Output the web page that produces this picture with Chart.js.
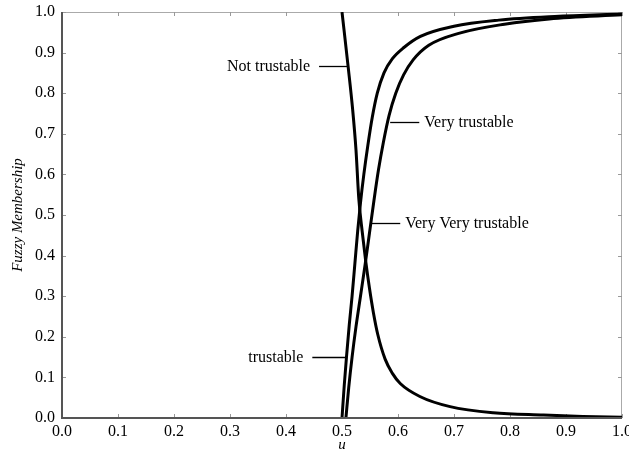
<!DOCTYPE html>
<html>
<head>
<meta charset="utf-8">
<script src="https://cdn.jsdelivr.net/npm/chart.js@4.4.1/dist/chart.umd.min.js"></script>
<style>
  body { margin: 0; background: #fff; }
  canvas { display: block; }
</style>
</head>
<body>
<canvas id="fuzzyChart" width="629" height="454"></canvas>
<script>
// Fuzzy membership curves
const notU = [0.500, 0.511, 0.519, 0.525, 0.530, 0.536, 0.542, 0.549, 0.556, 0.564, 0.577, 0.590, 0.604, 0.639, 0.693, 0.770, 0.860, 0.930, 1.000];
const notV = [1.000, 0.865, 0.760, 0.660, 0.540, 0.460, 0.390, 0.320, 0.260, 0.205, 0.145, 0.110, 0.085, 0.053, 0.028, 0.013, 0.0074, 0.004, 0.002];

const trustU = [0.500, 0.504, 0.508, 0.513, 0.518, 0.523, 0.528, 0.533, 0.539, 0.546, 0.554, 0.563, 0.575, 0.590, 0.610, 0.640, 0.700, 0.780, 0.880, 1.000];
const trustV = [0.000, 0.080, 0.150, 0.230, 0.300, 0.380, 0.460, 0.530, 0.600, 0.670, 0.740, 0.800, 0.850, 0.885, 0.912, 0.940, 0.965, 0.980, 0.989, 0.995];

const veryU = [0.507, 0.512, 0.518, 0.525, 0.533, 0.541, 0.549, 0.557, 0.565, 0.574, 0.584, 0.596, 0.610, 0.627, 0.655, 0.710, 0.790, 0.870, 1.000];
const veryV = [0.000, 0.075, 0.150, 0.225, 0.300, 0.375, 0.455, 0.535, 0.610, 0.680, 0.745, 0.800, 0.845, 0.882, 0.918, 0.948, 0.970, 0.983, 0.993];

const xTicks = [0, 0.1, 0.2, 0.3, 0.4, 0.5, 0.6, 0.7, 0.8, 0.9, 1.0];
const yTicks = [0, 0.1, 0.2, 0.3, 0.4, 0.5, 0.6, 0.7, 0.8, 0.9, 1.0];

// curve labels: text, leader line from (u1,v) to (u2,v), text side
const labelNames = ['Not trustable', 'Very trustable', 'Very Very trustable', 'trustable'];
const labelLineU1 = [0.459, 0.586, 0.550, 0.447];
const labelLineU2 = [0.511, 0.638, 0.604, 0.507];
const labelLineV = [0.867, 0.729, 0.480, 0.150];
const labelSide = ['left', 'right', 'right', 'left'];

const serif = '"Liberation Serif", "DejaVu Serif", serif';

function toPoints(us, vs) {
  return us.map((u, i) => ({ x: u, y: vs[i] }));
}

const curveStyle = {
  borderColor: '#000',
  borderWidth: 3,
  pointRadius: 0,
  fill: false,
  cubicInterpolationMode: 'monotone'
};

// frame, inward tick marks, and the curve labels
const framePlugin = {
  id: 'frame',
  beforeDatasetsDraw(chart) {
    const { ctx, chartArea: a, scales } = chart;
    ctx.save();
    ctx.lineWidth = 1;
    ctx.strokeStyle = '#aaa';
    ctx.beginPath();
    ctx.moveTo(a.left, a.top + 0.5);
    ctx.lineTo(a.right - 0.5, a.top + 0.5);
    ctx.lineTo(a.right - 0.5, a.bottom);
    ctx.stroke();

    ctx.strokeStyle = '#999';
    xTicks.forEach(t => {
      const px = Math.round(scales.x.getPixelForValue(t)) + 0.5;
      ctx.beginPath();
      ctx.moveTo(px, a.bottom); ctx.lineTo(px, a.bottom - 4);
      ctx.moveTo(px, a.top); ctx.lineTo(px, a.top + 4);
      ctx.stroke();
    });
    yTicks.forEach(t => {
      const py = Math.round(scales.y.getPixelForValue(t)) + 0.5;
      ctx.beginPath();
      ctx.moveTo(a.left, py); ctx.lineTo(a.left + 4, py);
      ctx.moveTo(a.right, py); ctx.lineTo(a.right - 4, py);
      ctx.stroke();
    });
    ctx.restore();
  },
  afterDatasetsDraw(chart) {
    const { ctx, chartArea: a, scales } = chart;
    ctx.save();
    ctx.strokeStyle = '#555';
    ctx.lineWidth = 2;
    ctx.beginPath();
    ctx.moveTo(a.left, a.top);
    ctx.lineTo(a.left, a.bottom);
    ctx.lineTo(a.right, a.bottom);
    ctx.stroke();

    ctx.strokeStyle = '#000';
    ctx.fillStyle = '#000';
    ctx.lineWidth = 1.3;
    ctx.font = '16px ' + serif;
    ctx.textBaseline = 'middle';
    labelNames.forEach((name, i) => {
      const x1 = scales.x.getPixelForValue(labelLineU1[i]);
      const x2 = scales.x.getPixelForValue(labelLineU2[i]);
      const y = Math.round(scales.y.getPixelForValue(labelLineV[i])) + 0.5;
      ctx.beginPath();
      ctx.moveTo(x1, y);
      ctx.lineTo(x2, y);
      ctx.stroke();
      if (labelSide[i] === 'left') {
        ctx.textAlign = 'right';
        ctx.fillText(name, x1 - 9, y);
      } else {
        ctx.textAlign = 'left';
        ctx.fillText(name, x2 + 5, y);
      }
    });
    ctx.restore();
  }
};

new Chart(document.getElementById('fuzzyChart'), {
  type: 'line',
  data: {
    datasets: [
      { label: 'Not trustable', data: toPoints(notU, notV), ...curveStyle },
      { label: 'trustable', data: toPoints(trustU, trustV), ...curveStyle },
      { label: 'Very trustable', data: toPoints(veryU, veryV), ...curveStyle }
    ]
  },
  options: {
    responsive: false,
    animation: false,
    layout: { padding: { top: 12, right: 7, left: 0, bottom: 0 } },
    plugins: {
      legend: { display: false },
      tooltip: { enabled: false }
    },
    scales: {
      x: {
        type: 'linear',
        min: 0,
        max: 1,
        afterBuildTicks(scale) { scale.ticks = xTicks.map(v => ({ value: v })); },
        afterFit(scale) {
          scale.height = 36;
          scale.paddingLeft = 0;
          scale.paddingRight = 0;
        },
        grid: { display: false, drawTicks: false },
        border: { display: false },
        ticks: {
          padding: 4,
          color: '#000',
          font: { family: serif, size: 16 },
          callback: v => v.toFixed(1)
        },
        title: {
          display: true,
          text: 'u',
          color: '#000',
          padding: { top: 0, bottom: 0 },
          font: { family: serif, size: 15, style: 'italic' }
        }
      },
      y: {
        type: 'linear',
        min: 0,
        max: 1,
        afterBuildTicks(scale) { scale.ticks = yTicks.map(v => ({ value: v })); },
        afterFit(scale) {
          scale.width = 62;
          scale.paddingTop = 0;
          scale.paddingBottom = 0;
        },
        grid: { display: false, drawTicks: false },
        border: { display: false },
        ticks: {
          padding: 7,
          color: '#000',
          font: { family: serif, size: 16 },
          callback: v => v.toFixed(1)
        },
        title: {
          display: true,
          text: 'Fuzzy Membership',
          color: '#000',
          padding: { top: 9, bottom: 0 },
          font: { family: serif, size: 15, style: 'italic' }
        }
      }
    }
  },
  plugins: [framePlugin]
});
</script>
</body>
</html>
